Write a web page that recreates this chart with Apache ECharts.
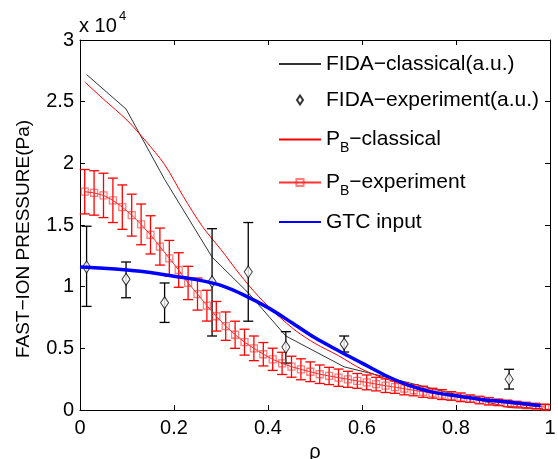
<!DOCTYPE html>
<html>
<head>
<meta charset="utf-8">
<script src="https://cdn.jsdelivr.net/npm/echarts@6/dist/echarts.min.js"></script>
<style>
html, body { margin: 0; padding: 0; background: #fff; }
#chart { width: 558px; height: 459px; }
</style>
</head>
<body>
<div id="chart"></div>
<script>
const FONT = "'Liberation Sans', Arial, Helvetica, sans-serif";

// all pressures in units of 10^4 Pa
const fidaClassRho = [0.014, 0.098, 0.18, 0.281, 0.358, 0.438, 0.562, 0.913, 0.985];
const fidaClassVal = [2.72, 2.44, 1.87, 1.24, 0.95, 0.60, 0.35, 0.02, 0.01];

const fidaExpRho = [0.014, 0.098, 0.18, 0.281, 0.358, 0.438, 0.562, 0.913];
const fidaExpVal = [1.16, 1.06, 0.87, 1.04, 1.12, 0.51, 0.535, 0.25];
const fidaExpLo = [0.84, 0.91, 0.71, 0.60, 0.72, 0.38, 0.47, 0.17];
const fidaExpHi = [1.49, 1.20, 1.03, 1.47, 1.52, 0.635, 0.60, 0.33];

const pbClassRho = [0.01, 0.05, 0.10, 0.14, 0.18, 0.22, 0.26, 0.30, 0.34, 0.38,
  0.42, 0.46, 0.50, 0.55, 0.60, 0.66, 0.72, 0.80, 0.90, 0.98];
const pbClassVal = [2.66, 2.52, 2.35, 2.18, 1.99, 1.73, 1.49, 1.30, 1.10, 0.92,
  0.77, 0.64, 0.54, 0.44, 0.33, 0.24, 0.17, 0.11, 0.06, 0.03];

const pbExpRho = [0.01, 0.03, 0.05, 0.07, 0.09, 0.11, 0.13, 0.15, 0.17, 0.19,
  0.21, 0.23, 0.25, 0.27, 0.29, 0.31, 0.33, 0.35, 0.37, 0.39,
  0.41, 0.43, 0.45, 0.47, 0.49, 0.51, 0.53, 0.55, 0.57, 0.59,
  0.61, 0.63, 0.65, 0.67, 0.69, 0.71, 0.73, 0.75, 0.77, 0.79,
  0.81, 0.83, 0.85, 0.87, 0.89, 0.91, 0.93, 0.95, 0.97, 0.99];
const pbExpVal = [1.77, 1.76, 1.74, 1.70, 1.645, 1.58, 1.505, 1.42, 1.325, 1.23,
  1.135, 1.03, 0.94, 0.846, 0.76, 0.68, 0.61, 0.55, 0.50, 0.452,
  0.411, 0.378, 0.351, 0.33, 0.31, 0.29, 0.276, 0.262, 0.249, 0.236,
  0.224, 0.21, 0.197, 0.185, 0.173, 0.16, 0.148, 0.136, 0.125, 0.114,
  0.103, 0.092, 0.081, 0.071, 0.062, 0.053, 0.045, 0.037, 0.03, 0.024];
const pbExpErr = [0.18, 0.18, 0.18, 0.18, 0.18, 0.17, 0.165, 0.155, 0.15, 0.145,
  0.14, 0.135, 0.13, 0.125, 0.12, 0.115, 0.11, 0.105, 0.10, 0.095,
  0.09, 0.09, 0.085, 0.085, 0.08, 0.075, 0.07, 0.07, 0.065, 0.06,
  0.06, 0.055, 0.055, 0.05, 0.05, 0.045, 0.045, 0.04, 0.04, 0.035,
  0.035, 0.03, 0.03, 0.03, 0.025, 0.025, 0.02, 0.02, 0.02, 0.02];

const gtcRho = [0, 0.05, 0.10, 0.15, 0.20, 0.25, 0.30, 0.35, 0.40, 0.45, 0.50,
  0.55, 0.60, 0.65, 0.70, 0.75, 0.80, 0.85, 0.90, 0.95, 0.98];
const gtcVal = [1.16, 1.15, 1.135, 1.115, 1.085, 1.055, 1.01, 0.93, 0.83, 0.71, 0.585,
  0.48, 0.38, 0.28, 0.20, 0.145, 0.115, 0.088, 0.068, 0.048, 0.035];

const xRange = { min: 0, max: 1, interval: 0.2 };
const yRange = { min: 0, max: 3, interval: 0.5 };

const NAMES = ["FIDA−classical(a.u.)", "FIDA−experiment(a.u.)", "PB−classical", "PB−experiment", "GTC input"];

const pairs = (xs, ys) => xs.map((x, i) => [x, ys[i]]);

function errorBars(color, capHalf, width) {
  return function (params, api) {
    const x = api.value(0);
    const lo = api.coord([x, api.value(1)]);
    const hi = api.coord([x, api.value(2)]);
    const style = { stroke: color, lineWidth: width };
    return {
      type: "group",
      children: [
        { type: "line", shape: { x1: hi[0], y1: hi[1], x2: lo[0], y2: lo[1] }, style },
        { type: "line", shape: { x1: hi[0] - capHalf, y1: hi[1], x2: hi[0] + capHalf, y2: hi[1] }, style },
        { type: "line", shape: { x1: lo[0] - capHalf, y1: lo[1], x2: lo[0] + capHalf, y2: lo[1] }, style },
      ],
    };
  };
}

const axisCommon = {
  axisLine: { onZero: false, lineStyle: { color: "#000", width: 1 } },
  axisTick: { inside: true, length: 5, lineStyle: { color: "#000", width: 1 } },
  splitLine: { show: false },
};
const labelStyle = { color: "#000", fontSize: 20, fontFamily: FONT };

// plain lines: invisible marker so the legend shows only the line
const HIDDEN = { color: "rgba(0,0,0,0)", borderWidth: 0 };
const diamond = "path://M4,0L8,6L4,12L0,6Z";

const chart = echarts.init(document.getElementById("chart"));
chart.setOption({
  animation: false,
  backgroundColor: "#fff",
  grid: { left: 80, right: 8, top: 40, bottom: 49, containLabel: false, outerBoundsMode: "none" },
  xAxis: [
    Object.assign({ type: "value", position: "bottom", name: "ρ", nameLocation: "middle", nameGap: 19,
      nameTextStyle: labelStyle, axisLabel: Object.assign({ margin: 8 }, labelStyle) }, xRange, axisCommon),
    Object.assign({ type: "value", position: "top", axisLabel: { show: false } }, xRange, axisCommon),
  ],
  yAxis: [
    Object.assign({ type: "value", position: "left", name: "FAST−ION PRESSURE(Pa)", nameLocation: "middle",
      nameGap: 47, nameTextStyle: Object.assign({}, labelStyle, { fontSize: 19, padding: [0, 28, 0, 0] }),
      axisLabel: Object.assign({ margin: 6 }, labelStyle) }, yRange, axisCommon),
    Object.assign({ type: "value", position: "right", axisLabel: { show: false } }, yRange, axisCommon),
  ],
  legend: {
    orient: "vertical",
    left: 278,
    top: 52,
    padding: 0,
    itemWidth: 42,
    itemHeight: 9,
    itemGap: 12,
    data: [
      { name: NAMES[0] },
      { name: NAMES[1], icon: diamond },
      { name: NAMES[2] },
      { name: NAMES[3] },
      { name: NAMES[4] },
    ],
    formatter: (name) => (name.startsWith("PB") ? "{p|P}{s|B}{p|" + name.slice(2) + "}" : name),
    textStyle: {
      color: "#000", fontSize: 21, fontFamily: FONT, lineHeight: 24,
      rich: {
        p: { color: "#000", fontSize: 21, fontFamily: FONT, lineHeight: 21, verticalAlign: "top" },
        s: { color: "#000", fontSize: 14, fontFamily: FONT, lineHeight: 16, padding: [17, 0, 0, 0] },
      },
    },
  },
  graphic: [
    { type: "text", left: 79, top: 16, style: { text: "x 10", fill: "#000", font: "20px " + FONT } },
    { type: "text", left: 119, top: 10, style: { text: "4", fill: "#000", font: "13px " + FONT } },
  ],
  series: [
    {
      name: NAMES[0], type: "line", data: pairs(fidaClassRho, fidaClassVal),
      symbol: "circle", showSymbol: false, lineStyle: { color: "#333", width: 1 }, itemStyle: HIDDEN, z: 2,
    },
    {
      type: "custom", renderItem: errorBars("#000", 5, 1.3), encode: { x: 0, y: [1, 2] },
      data: fidaExpRho.map((r, i) => [r, fidaExpLo[i], fidaExpHi[i]]), z: 3, silent: true,
    },
    {
      name: NAMES[1], type: "scatter", data: pairs(fidaExpRho, fidaExpVal),
      symbol: "diamond", symbolSize: [8, 12],
      itemStyle: { color: "#fff", borderColor: "#000", borderWidth: 1 }, z: 4,
    },
    {
      name: NAMES[2], type: "line", data: pairs(pbClassRho, pbClassVal), smooth: 0.3,
      symbol: "circle", showSymbol: false, lineStyle: { color: "#ff0000", width: 1 }, itemStyle: HIDDEN, z: 2,
    },
    {
      type: "custom", renderItem: errorBars("#ff0000", 5, 1.3), encode: { x: 0, y: [1, 2] },
      data: pbExpRho.map((r, i) => [r, pbExpVal[i] - pbExpErr[i], pbExpVal[i] + pbExpErr[i]]), z: 3, silent: true,
    },
    {
      name: NAMES[3], type: "line", data: pairs(pbExpRho, pbExpVal),
      symbol: "rect", symbolSize: 7, showSymbol: true,
      lineStyle: { color: "#ff3030", width: 1 },
      itemStyle: { color: "rgba(255,255,255,0)", borderColor: "rgba(255,40,40,0.6)", borderWidth: 1.3 }, z: 4,
    },
    {
      name: NAMES[4], type: "line", data: pairs(gtcRho, gtcVal), smooth: 0.3,
      symbol: "circle", showSymbol: false, lineStyle: { color: "#0000ff", width: 3.5 }, itemStyle: HIDDEN, z: 5,
    },
  ],
});
</script>
</body>
</html>
